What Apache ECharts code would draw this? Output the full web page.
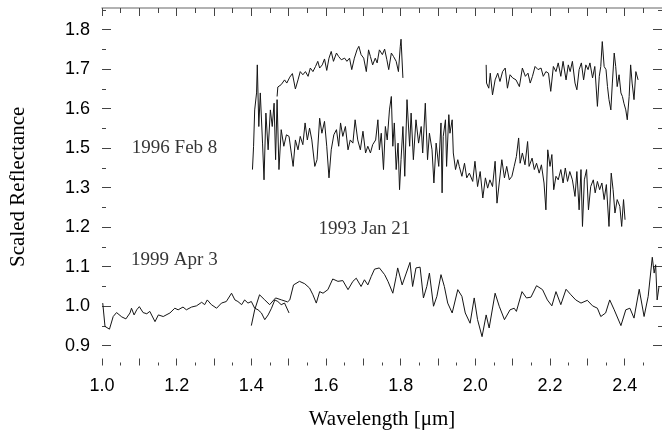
<!DOCTYPE html>
<html lang="en">
<head>
<meta charset="UTF-8">
<title>Scaled Reflectance</title>
<script src="https://cdn.jsdelivr.net/npm/echarts@6/dist/echarts.min.js"></script>
<style>
  html, body { margin: 0; padding: 0; background: #fff; }
  #chart { width: 662px; height: 439px; }
</style>
</head>
<body>
<div id="chart"></div>
<script>
// x axis (wavelength, micron)
var xLabelValues = [1.0, 1.2, 1.4, 1.6, 1.8, 2.0, 2.2, 2.4];
var xMajorTicks = [1.0, 1.1, 1.2, 1.3, 1.4, 1.5, 1.6, 1.7, 1.8, 1.9, 2.0, 2.1, 2.2, 2.3, 2.4];
var xMinorTicks = [1.05, 1.15, 1.25, 1.35, 1.45, 1.55, 1.65, 1.75, 1.85, 1.95, 2.05, 2.15, 2.25, 2.35, 2.45];

// y axis: ticks are evenly spaced but the printed labels skip 1.4
var yTickValues = [0.9, 1.0, 1.1, 1.2, 1.3, 1.4, 1.5, 1.6, 1.7];
var yTickLabels = ['0.9', '1.0', '1.1', '1.2', '1.3', '1.5', '1.6', '1.7', '1.8'];
var yMinorTicks = [0.95, 1.05, 1.15, 1.25, 1.35, 1.45, 1.55, 1.65, 1.75];

// text notes
var noteLabels = ['1996 Feb 8', '1999 Apr 3', '1993 Jan 21'];
var noteX = [1.080, 1.078, 1.580];
var noteY = [1.401, 1.118, 1.196];

// 1999 Apr 3, short piece 1.0 - 1.5
var spec1999a = [
  [1.002,1.008],[1.008,0.949],[1.020,0.942],[1.030,0.974],[1.039,0.984],[1.053,0.973],[1.064,0.968],
  [1.075,0.983],[1.079,0.995],[1.086,0.978],[1.093,0.991],[1.100,0.999],[1.110,0.984],[1.120,0.981],
  [1.128,0.987],[1.142,0.961],[1.151,0.978],[1.164,0.974],[1.182,0.983],[1.195,0.995],[1.204,0.991],
  [1.217,0.998],[1.226,0.991],[1.240,0.998],[1.253,1.001],[1.267,1.010],[1.275,1.004],[1.282,1.016],
  [1.293,1.004],[1.307,0.995],[1.320,1.008],[1.333,1.012],[1.347,1.033],[1.356,1.016],[1.364,1.012],
  [1.374,1.004],[1.382,1.016],[1.391,1.008],[1.400,1.012],[1.409,0.995],[1.418,0.991],[1.427,0.983],
  [1.436,0.966],[1.445,0.978],[1.454,0.995],[1.463,1.016],[1.471,1.012],[1.480,1.004],[1.489,1.008],
  [1.501,0.983]
];

// 1999 Apr 3, long piece 1.4 - 2.5
var spec1999b = [
  [1.400,0.951],[1.409,0.991],[1.422,1.029],[1.436,1.016],[1.449,1.004],[1.465,1.021],[1.481,1.016],
  [1.497,1.011],[1.503,1.016],[1.513,1.054],[1.529,1.063],[1.543,1.057],[1.556,1.046],[1.565,1.029],
  [1.574,1.008],[1.583,1.037],[1.592,1.033],[1.605,1.042],[1.618,1.069],[1.632,1.063],[1.645,1.065],
  [1.659,1.042],[1.672,1.063],[1.681,1.071],[1.694,1.050],[1.703,1.067],[1.712,1.054],[1.721,1.075],
  [1.730,1.094],[1.743,1.097],[1.757,1.080],[1.766,1.063],[1.779,1.033],[1.788,1.075],[1.792,1.097],
  [1.804,1.054],[1.815,1.084],[1.825,1.111],[1.832,1.050],[1.841,1.097],[1.852,1.099],[1.861,1.021],
  [1.870,1.050],[1.877,1.084],[1.888,1.000],[1.897,1.025],[1.908,1.080],[1.917,1.050],[1.926,1.008],
  [1.938,0.983],[1.953,1.042],[1.964,1.025],[1.973,0.983],[1.986,0.957],[1.997,1.021],[2.006,0.966],
  [2.018,0.923],[2.029,0.978],[2.037,0.945],[2.053,1.033],[2.064,1.000],[2.078,0.966],[2.093,0.991],
  [2.104,0.995],[2.110,0.987],[2.125,1.037],[2.137,1.021],[2.149,1.023],[2.164,1.052],[2.180,1.042],
  [2.193,1.016],[2.205,1.001],[2.216,1.037],[2.229,1.004],[2.243,1.043],[2.256,1.029],[2.269,1.016],
  [2.283,1.008],[2.300,1.015],[2.314,1.001],[2.327,0.995],[2.336,0.974],[2.349,0.983],[2.360,1.016],
  [2.372,0.991],[2.390,0.951],[2.403,0.991],[2.414,0.995],[2.425,0.970],[2.439,1.043],[2.452,0.974],
  [2.463,1.025],[2.474,1.124],[2.479,1.084],[2.483,1.105],[2.487,1.016],[2.492,1.050]
];

// 1996 Feb 8
var spec1996 = [
  [1.403,1.346],[1.406,1.405],[1.409,1.497],[1.414,1.540],[1.416,1.611],[1.420,1.455],[1.424,1.540],
  [1.430,1.413],[1.434,1.320],[1.439,1.489],[1.445,1.396],[1.451,1.497],[1.456,1.455],[1.461,1.514],
  [1.465,1.371],[1.469,1.523],[1.474,1.346],[1.480,1.447],[1.487,1.405],[1.494,1.434],[1.501,1.430],
  [1.507,1.388],[1.512,1.354],[1.518,1.421],[1.525,1.396],[1.531,1.430],[1.538,1.409],[1.544,1.464],
  [1.550,1.421],[1.556,1.451],[1.562,1.421],[1.570,1.354],[1.576,1.371],[1.583,1.476],[1.589,1.438],
  [1.596,1.468],[1.602,1.405],[1.608,1.325],[1.614,1.396],[1.621,1.434],[1.628,1.447],[1.634,1.405],
  [1.639,1.464],[1.645,1.430],[1.652,1.455],[1.659,1.396],[1.665,1.421],[1.672,1.413],[1.678,1.472],
  [1.685,1.421],[1.692,1.396],[1.699,1.443],[1.706,1.388],[1.712,1.405],[1.719,1.388],[1.725,1.409],
  [1.733,1.421],[1.739,1.472],[1.743,1.396],[1.748,1.438],[1.754,1.346],[1.759,1.455],[1.764,1.421],
  [1.770,1.497],[1.775,1.531],[1.779,1.405],[1.783,1.464],[1.788,1.346],[1.793,1.413],[1.797,1.295],
  [1.801,1.371],[1.806,1.455],[1.811,1.329],[1.817,1.523],[1.824,1.405],[1.828,1.489],[1.834,1.371],
  [1.841,1.472],[1.848,1.413],[1.855,1.455],[1.859,1.388],[1.866,1.514],[1.872,1.371],[1.877,1.438],
  [1.884,1.396],[1.889,1.312],[1.895,1.413],[1.902,1.354],[1.908,1.464],[1.911,1.287],[1.914,1.430],
  [1.920,1.472],[1.923,1.354],[1.929,1.485],[1.932,1.438],[1.938,1.472],[1.941,1.388],[1.947,1.346],
  [1.953,1.371],[1.957,1.354],[1.964,1.329],[1.971,1.362],[1.977,1.325],[1.984,1.337],[1.993,1.316],
  [1.999,1.367],[2.006,1.303],[2.013,1.341],[2.020,1.274],[2.027,1.325],[2.033,1.299],[2.039,1.320],
  [2.046,1.303],[2.053,1.367],[2.058,1.261],[2.064,1.312],[2.071,1.371],[2.078,1.325],[2.084,1.354],
  [2.091,1.320],[2.098,1.329],[2.104,1.354],[2.110,1.379],[2.116,1.426],[2.120,1.362],[2.126,1.388],
  [2.133,1.358],[2.140,1.417],[2.144,1.354],[2.152,1.375],[2.158,1.346],[2.164,1.362],[2.171,1.337],
  [2.177,1.358],[2.184,1.312],[2.189,1.244],[2.194,1.396],[2.200,1.354],[2.205,1.384],[2.210,1.295],
  [2.216,1.329],[2.222,1.320],[2.229,1.346],[2.235,1.312],[2.241,1.350],[2.247,1.316],[2.253,1.341],
  [2.260,1.320],[2.267,1.278],[2.272,1.341],[2.278,1.244],[2.283,1.346],[2.287,1.202],[2.292,1.320],
  [2.298,1.346],[2.303,1.244],[2.309,1.303],[2.316,1.320],[2.321,1.287],[2.327,1.316],[2.333,1.295],
  [2.339,1.312],[2.345,1.270],[2.351,1.308],[2.358,1.202],[2.364,1.337],[2.369,1.295],[2.374,1.236],
  [2.380,1.270],[2.387,1.253],[2.392,1.202],[2.397,1.270],[2.401,1.219]
];

// top spectrum, short-wave part
var specTopA = [
  [1.469,1.531],[1.471,1.555],[1.480,1.561],[1.489,1.573],[1.495,1.565],[1.503,1.580],[1.510,1.589],
  [1.518,1.550],[1.525,1.573],[1.531,1.594],[1.538,1.586],[1.545,1.594],[1.552,1.582],[1.558,1.603],
  [1.565,1.594],[1.572,1.607],[1.578,1.620],[1.583,1.603],[1.590,1.611],[1.596,1.626],[1.602,1.597],
  [1.608,1.628],[1.614,1.645],[1.620,1.620],[1.628,1.641],[1.634,1.632],[1.641,1.624],[1.650,1.628],
  [1.656,1.620],[1.663,1.628],[1.669,1.599],[1.676,1.628],[1.683,1.649],[1.688,1.658],[1.694,1.637],
  [1.701,1.628],[1.708,1.594],[1.714,1.649],[1.719,1.632],[1.725,1.611],[1.732,1.628],[1.737,1.616],
  [1.743,1.649],[1.751,1.637],[1.757,1.651],[1.763,1.624],[1.768,1.599],[1.775,1.641],[1.781,1.632],
  [1.788,1.620],[1.794,1.594],[1.799,1.658],[1.801,1.676],[1.806,1.578]
];

// top spectrum, long-wave part
var specTopB = [
  [2.029,1.611],[2.030,1.565],[2.036,1.552],[2.040,1.590],[2.046,1.535],[2.053,1.573],[2.060,1.590],
  [2.066,1.569],[2.073,1.594],[2.080,1.603],[2.086,1.552],[2.093,1.586],[2.100,1.578],[2.109,1.573],
  [2.118,1.556],[2.126,1.603],[2.134,1.582],[2.141,1.590],[2.147,1.565],[2.153,1.582],[2.160,1.607],
  [2.168,1.599],[2.176,1.603],[2.182,1.582],[2.189,1.594],[2.196,1.590],[2.202,1.544],[2.209,1.607],
  [2.216,1.594],[2.222,1.616],[2.229,1.582],[2.235,1.620],[2.243,1.573],[2.249,1.611],[2.254,1.594],
  [2.260,1.620],[2.267,1.565],[2.272,1.548],[2.278,1.599],[2.284,1.616],[2.290,1.573],[2.296,1.611],
  [2.302,1.599],[2.307,1.616],[2.314,1.578],[2.320,1.607],[2.327,1.506],[2.332,1.582],[2.336,1.607],
  [2.340,1.670],[2.345,1.607],[2.350,1.599],[2.354,1.556],[2.358,1.523],[2.363,1.497],[2.367,1.565],
  [2.372,1.641],[2.376,1.607],[2.380,1.556],[2.385,1.586],[2.390,1.540],[2.394,1.531],[2.398,1.514],
  [2.403,1.497],[2.407,1.472],[2.412,1.531],[2.416,1.611],[2.420,1.565],[2.425,1.523],[2.430,1.594],
  [2.436,1.573]
];

var X_MIN = 1.0, X_MAX = 2.5;
var Y_MIN = 0.85, Y_MAX = 1.755;
var tickColor = '#444';

function tickAxis(position, ticks, len) {
  return {
    type: 'value',
    position: position,
    axisLine: { show: false },
    axisTick: { show: true, inside: true, length: len, customValues: ticks,
                lineStyle: { color: tickColor, width: 1 } },
    axisLabel: { show: false },
    splitLine: { show: false }
  };
}

function xAx(position, ticks, len, extra) {
  return Object.assign(tickAxis(position, ticks, len), { min: X_MIN, max: X_MAX }, extra || {});
}
function yAx(position, ticks, len, extra) {
  return Object.assign(tickAxis(position, ticks, len), { min: Y_MIN, max: Y_MAX }, extra || {});
}

var chart = echarts.init(document.getElementById('chart'));

var lineStyle = { color: '#151515', width: 1 };
function spectrum(data) {
  return {
    type: 'line', data: data, xAxisIndex: 0, yAxisIndex: 0,
    showSymbol: false, symbol: 'none', lineStyle: lineStyle, silent: true
  };
}

chart.setOption({
  animation: false,
  backgroundColor: '#fff',
  grid: { left: 102, top: 8, width: 561, height: 357.5, containLabel: false },
  xAxis: [
    xAx('bottom', xMajorTicks, 7, {
      axisLabel: {
        show: true, customValues: xLabelValues, margin: 12,
        fontFamily: 'Liberation Sans', fontSize: 18, color: '#000',
        formatter: function (v) { return v.toFixed(1); }
      },
      name: 'Wavelength [\u03bcm]', nameLocation: 'middle', nameGap: 43,
      nameTextStyle: { fontFamily: 'Liberation Serif', fontSize: 21, color: '#000' }
    }),
    xAx('bottom', xMinorTicks, 3),
    xAx('top', xMajorTicks, 8, {
      axisLine: { show: true, lineStyle: { color: '#999', width: 1.5 } }
    }),
    xAx('top', xMinorTicks, 5)
  ],
  yAxis: [
    yAx('left', yTickValues, 9, {
      axisLabel: {
        show: true, customValues: yTickValues, margin: 12,
        fontFamily: 'Liberation Sans', fontSize: 18, color: '#000',
        formatter: function (v) {
          for (var i = 0; i < yTickValues.length; i++) {
            if (Math.abs(yTickValues[i] - v) < 1e-6) return yTickLabels[i];
          }
          return '';
        }
      },
      name: 'Scaled Reflectance', nameLocation: 'middle', nameGap: 73, nameRotate: 90,
      nameTextStyle: { fontFamily: 'Liberation Serif', fontSize: 21, color: '#000' }
    }),
    yAx('left', yMinorTicks, 4),
    yAx('right', yTickValues, 9),
    yAx('right', yMinorTicks, 4)
  ],
  series: [
    spectrum(spec1999a),
    spectrum(spec1999b),
    spectrum(spec1996),
    spectrum(specTopA),
    spectrum(specTopB),
    {
      type: 'scatter', xAxisIndex: 0, yAxisIndex: 0, symbolSize: 0, silent: true,
      data: noteLabels.map(function (t, i) { return { value: [noteX[i], noteY[i]], name: t }; }),
      label: {
        show: true, position: 'right', distance: 0,
        formatter: function (p) { return p.name; },
        fontFamily: 'Liberation Serif', fontSize: 19, color: '#000'
      }
    }
  ]
});
</script>
</body>
</html>
